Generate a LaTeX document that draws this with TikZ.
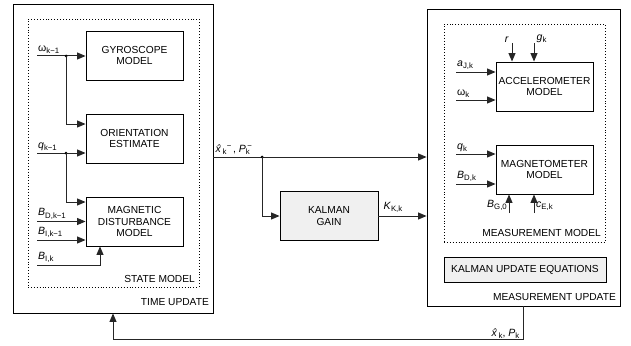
\documentclass[tikz,border=0pt]{standalone}
\usepackage{fontspec}
\setmainfont{Liberation Sans}
\usetikzlibrary{arrows.meta}

% upright lowered subscript and raised superscript for the signal labels
\newcommand\sbs[1]{{\fontsize{7.8}{8}\selectfont\raisebox{-2.6pt}{#1}}}
\newcommand\sps[1]{{\fontsize{7.8}{8}\selectfont\raisebox{4pt}{#1}}}

\tikzset{
  every node/.style={font=\fontsize{10.2}{11.5}\selectfont},
  blk/.style={draw=black, line width=0.9pt, minimum width=97pt, minimum height=49pt,
    align=center, inner sep=1pt},
  grayblk/.style={blk, fill=black!6},
  frame/.style={draw=black, line width=0.9pt, inner sep=0pt},
  dotframe/.style={draw=black, line width=0.8pt, dash pattern=on 0.9pt off 2pt, inner sep=0pt},
  conn/.style={draw=black!85, line width=1pt},
  arr/.style={conn, -{Triangle[length=8.5pt,width=7pt]}},
  jdot/.style={circle, fill=black, inner sep=0pt, minimum size=3pt},
  lbl/.style={inner sep=1pt},
  sig/.style={inner sep=1pt, font=\fontsize{10.5}{11.5}\selectfont},
}

\begin{document}
\begin{tikzpicture}[x=1pt, y=-1pt]
\useasboundingbox (0,0) rectangle (631,345);

% --- time update -------------------------------------------------------
\node[frame, minimum width=200pt, minimum height=309pt] (tu) at (113,158.5) {};
\node[dotframe, minimum width=171pt, minimum height=268pt] (sm) at (113.5,153) {};
\node[blk] (gyro) at (134.5,55.5) {GYROSCOPE\\MODEL};
\node[blk] (orient) at (134.5,138.5) {ORIENTATION\\ESTIMATE};
\node[blk] (magd) at (134.5,221.5) {MAGNETIC\\DISTURBANCE\\MODEL};
\node[anchor=east, lbl] (smlbl) at (196,279) {STATE MODEL};
\node[anchor=east, lbl] (tulbl) at (210,302) {TIME UPDATE};

% inputs of the state model
\coordinate (w1) at (37,56);
\coordinate (q1) at (37,153);
\coordinate (bd1) at (37,221.5);
\coordinate (bi1) at (37,240);
\coordinate (bi) at (37,265);
\node[anchor=south west, sig] (w1lbl) at ([yshift=1pt]w1) {ω\sbs{k−1}};
\node[anchor=south west, sig] (q1lbl) at ([yshift=1pt]q1) {\textit{q}\sbs{k−1}};
\node[anchor=south west, sig] (bd1lbl) at ([yshift=1pt]bd1) {\textit{B}\sbs{D,k−1}};
\node[anchor=south west, sig] (bi1lbl) at ([yshift=1pt]bi1) {\textit{B}\sbs{I,k−1}};
\node[anchor=south west, sig] (bilbl) at ([yshift=1pt]bi) {\textit{B}\sbs{I,k}};

\draw[arr] (w1) -- (w1 -| gyro.west);
\node[jdot] (j1) at (66,56) {};
\draw[arr] (j1.center) |- ([yshift=14.5pt]orient.west);
\draw[arr] (q1) -- (q1 -| orient.west);
\node[jdot] (j2) at (66,153) {};
\draw[arr] (j2.center) |- ([yshift=19.5pt]magd.west);
\draw[arr] (bd1) -- (bd1 -| magd.west);
\draw[arr] (bi1) -- (bi1 -| magd.west);
\draw[arr] (bi) -| ([xshift=-34.5pt]magd.south);

% --- prediction and Kalman gain ----------------------------------------
\coordinate (xo) at (tu.east |- 0,157);
\node[anchor=south west, sig] (xolbl) at ([xshift=1pt,yshift=1pt]xo)
  {\textit{\^x}\sbs{k}\kern0.3pt\sps{−}\,, \textit{P}\sbs{k}\kern-2.5pt\sps{−}};
\node[grayblk, minimum width=98pt] (kg) at (329,216) {KALMAN\\GAIN};

% --- measurement update ------------------------------------------------
\node[frame, minimum width=193pt, minimum height=297pt] (mu) at (523.5,157.5) {};
\node[dotframe, minimum width=161pt, minimum height=218pt] (mm) at (524.5,133) {};
\node[blk] (acc) at (544.5,86.5) {ACCELEROMETER\\MODEL};
\node[blk] (mag) at (544.5,169.5) {MAGNETOMETER\\MODEL};
\node[anchor=east, lbl] (mmlbl) at (602,233) {MEASUREMENT MODEL};
\node[grayblk, minimum width=162pt, minimum height=25pt] (kue) at (525,269.5) {KALMAN UPDATE EQUATIONS};
\node[anchor=east, lbl] (mulbl) at (617,297) {MEASUREMENT UPDATE};

\draw[arr] (xo) -- (xo -| mu.west);
\node[jdot] (j3) at (262,157) {};
\draw[arr] (j3.center) |- (kg.west);
\draw[arr] (kg.east) -- (kg.east -| mu.west);
\node[anchor=south west, sig] (kklbl) at ([xshift=4pt,yshift=2pt]kg.east) {\textit{K}\sbs{K,k}};

% inputs of the measurement model
\coordinate (aj) at (456,72);
\coordinate (wk) at (456,100);
\coordinate (qk) at (456,154);
\coordinate (bdk) at (456,184);
\coordinate (rr) at (512,43);
\coordinate (gk) at (534,43);
\coordinate (bg) at (509,213);
\coordinate (ce) at (534,213);
\node[anchor=south west, sig] (ajlbl) at ([yshift=1pt]aj) {\textit{a}\sbs{J,k}};
\node[anchor=south west, sig] (wklbl) at ([yshift=1pt]wk) {ω\sbs{k}};
\node[anchor=south west, sig] (qklbl) at ([yshift=1pt]qk) {\textit{q}\sbs{k}};
\node[anchor=south west, sig] (bdklbl) at ([yshift=1pt]bdk) {\textit{B}\sbs{D,k}};
\node[anchor=south east, sig] (rlbl) at ([xshift=-2pt,yshift=-1pt]rr) {\textit{r}};
\node[anchor=south west, sig] (gklbl) at ([xshift=1.5pt,yshift=-1pt]gk) {\textit{g}\sbs{k}};
\node[anchor=south east, sig] (bglbl) at ([xshift=-1pt,yshift=1pt]bg) {\textit{B}\sbs{G,0}};
\node[anchor=south west, sig] (celbl) at ([xshift=1pt,yshift=1pt]ce) {\textit{c}\sbs{E,k}};

\draw[arr] (aj) -- (aj -| acc.west);
\draw[arr] (wk) -- (wk -| acc.west);
\draw[arr] (rr) -- (rr |- acc.north);
\draw[arr] (gk) -- (gk |- acc.north);
\draw[arr] (qk) -- (qk -| mag.west);
\draw[arr] (bdk) -- (bdk -| mag.west);
\draw[arr] (bg) -- (bg |- mag.south);
\draw[arr] (ce) -- (ce |- mag.south);

% --- feedback of the corrected estimate ---------------------------------
\coordinate (fb) at (0,339);
\draw[arr] (mu.south) |- (fb -| tu.south) -- (tu.south);
\node[anchor=south east, sig] (fblbl) at ([xshift=-3pt,yshift=-1pt]fb -| mu.south) {\textit{\^x}\sbs{k}, \textit{P}\sbs{k}};
\end{tikzpicture}
\end{document}
